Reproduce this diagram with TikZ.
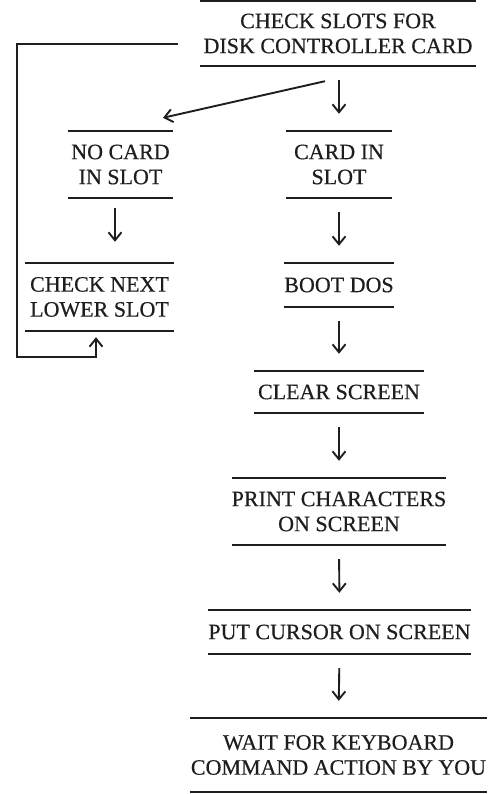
\documentclass[tikz,border=0pt]{standalone}
\usepackage{fontspec}
\setmainfont{Liberation Serif}[FakeBold=0.4]
\usetikzlibrary{arrows.meta}
\definecolor{ink}{HTML}{1E1E1E}
\tikzset{
  box/.style={font=\fontsize{22}{25}\selectfont, align=center, inner sep=0pt, text=ink},
  rule/.style={draw=ink, line width=1.7pt},
  arr/.style={draw=ink, line width=1.9pt, -{Straight Barb[length=8pt,width=13pt,line width=1.9pt]}},
  varr/.style={arr, shorten <=14pt, shorten >=17pt}
}
\begin{document}
\begin{tikzpicture}[x=1pt,y=-1pt]
\useasboundingbox[fill=white] (0,0) rectangle (497,794);

\node[box, minimum width=276pt, minimum height=65pt] (top) at (338,33.5) {CHECK SLOTS FOR\\DISK CONTROLLER CARD};
\node[box, minimum width=105pt, minimum height=67pt] (nocard) at (120.5,164.5) {NO CARD\\IN SLOT};
\node[box, minimum width=106pt, minimum height=67pt] (cardin) at (339,164.5) {CARD IN\\SLOT};
\node[box, minimum width=149pt, minimum height=68pt] (checknext) at (99.5,297) {CHECK NEXT\\LOWER SLOT};
\node[box, minimum width=106pt, minimum height=44pt] (boot) at (339,285) {BOOT DOS};
\node[box, minimum width=170pt, minimum height=42pt] (clear) at (339,392) {CLEAR SCREEN};
\node[box, minimum width=212pt, minimum height=67pt] (print) at (339,511.5) {PRINT CHARACTERS\\ON SCREEN};
\node[box, minimum width=255pt, minimum height=44pt] (cursor) at (339.5,632) {PUT CURSOR ON SCREEN};
\node[box, minimum width=297pt, minimum height=74pt] (wait) at (338.5,755) {WAIT FOR KEYBOARD\\COMMAND ACTION BY YOU};

\foreach \n in {top,nocard,cardin,checknext,boot,clear,print,cursor,wait}
  \draw[rule] (\n.north west) -- (\n.north east) (\n.south west) -- (\n.south east);

% straight down arrows
\draw[varr] (top.south -| cardin.north) -- (cardin.north);
\draw[varr] (cardin.south) -- (boot.north);
\draw[varr] (boot.south) -- (clear.north);
\draw[varr] (clear.south) -- (print.north);
\draw[varr] (print.south) -- (cursor.north);
\draw[varr] (cursor.south) -- (wait.north);
\draw[arr, shorten <=10pt, shorten >=21pt] ([xshift=-5.5pt]nocard.south) -- ([xshift=-5.5pt]nocard.south |- checknext.north);

% diagonal arrow
\draw[arr] ([shift={(-13pt,-15pt)}]top.south) -- ([shift={(42.5pt,13pt)}]nocard.north);

% feedback loop
\coordinate (fbstart) at (178,44);
\coordinate (fbleft) at (17,357);
\draw[arr, line join=miter] (fbstart) -| (fbleft) -| ([shift={(-3.5pt,-6pt)}]checknext.south);
\end{tikzpicture}
\end{document}
